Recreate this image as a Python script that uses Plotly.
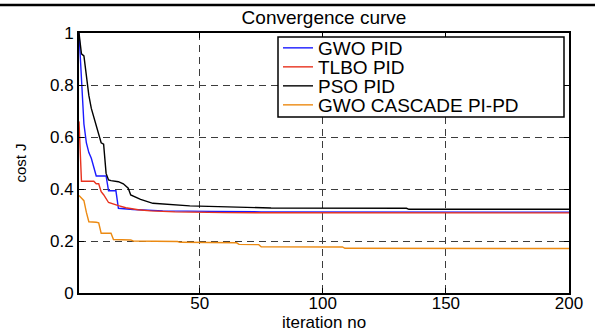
import plotly.graph_objects as go

# Convergence data: best cost J recorded at the iterations where it changes
gwo_iter = [1, 2, 3, 4, 5, 6, 8, 12, 13, 16, 17, 23, 35, 55, 75, 200]
gwo_cost = [1.0, 0.82, 0.65, 0.577, 0.54, 0.518, 0.45, 0.45, 0.393, 0.393, 0.326, 0.321, 0.316, 0.314, 0.312, 0.311]

tlbo_iter = [1, 2, 7, 8, 9, 10, 11, 12, 13, 17, 20, 25, 30, 40, 60, 200]
tlbo_cost = [0.66, 0.43, 0.43, 0.42, 0.42, 0.39, 0.378, 0.36, 0.348, 0.336, 0.328, 0.32, 0.316, 0.312, 0.309, 0.308]

pso_iter = [1, 2, 3, 4, 5, 6, 7, 8, 9, 10, 11, 12, 13, 14, 17, 19, 21, 22,
            26, 31, 46, 64, 79, 134, 135, 200]
pso_cost = [1.0, 0.92, 0.912, 0.83, 0.76, 0.71, 0.675, 0.64, 0.605, 0.578, 0.572, 0.46, 0.435, 0.432,
            0.428, 0.42, 0.403, 0.377, 0.36, 0.345, 0.335, 0.33, 0.327, 0.326, 0.322, 0.322]

cascade_iter = [1, 2, 3, 4, 5, 8, 9, 10, 14, 15, 22, 23, 41, 42, 65, 66, 74, 75, 108, 109, 200]
cascade_cost = [0.375, 0.365, 0.355, 0.31, 0.274, 0.272, 0.27, 0.23, 0.23, 0.206, 0.204, 0.2, 0.198,
                0.195, 0.193, 0.187, 0.186, 0.178, 0.177, 0.172, 0.171]

series_names = ["GWO PID", "TLBO PID", "PSO PID", "GWO CASCADE PI-PD"]
series_colors = ["#1a1aff", "#e8321e", "#000000", "#ec8a12"]

x_ticks = [50, 100, 150, 200]
y_ticks = [0, 0.2, 0.4, 0.6, 0.8, 1]

FONT = "Liberation Sans, Arial, sans-serif"

# plot area in pixels (figure is 595 x 332)
PL, PR, PT, PB = 79, 569, 33, 293
W, H = PR - PL, PB - PT

def px_x(px):
    return (px - PL) / W

def px_y(py):
    return (PB - py) / H

legend_ids = ["legend", "legend2", "legend3", "legend4"]
legend_rows = [48, 67, 86, 105]  # vertical centre of each legend entry (px)

fig = go.Figure()
for name, color, xs, ys, lid in zip(
    series_names,
    series_colors,
    [gwo_iter, tlbo_iter, pso_iter, cascade_iter],
    [gwo_cost, tlbo_cost, pso_cost, cascade_cost],
    legend_ids,
):
    fig.add_trace(go.Scatter(x=xs, y=ys, mode="lines", name=name, legend=lid,
                             line=dict(color=color, width=1.4)))

axis_common = dict(
    showline=True, linecolor="black", linewidth=1.8, mirror="ticks",
    ticks="inside", ticklen=5, tickwidth=1, tickcolor="black",
    showgrid=True, gridcolor="#3c3c3c", gridwidth=1, griddash="7px,5px",
    zeroline=False, automargin=False,
    tickfont=dict(family=FONT, size=17, color="black"),
)

fig.update_xaxes(range=[1, 200], tickvals=x_ticks, ticktext=[str(v) for v in x_ticks],
                 ticklabelstandoff=-6, **axis_common)
fig.update_yaxes(range=[0, 1], tickvals=y_ticks, ticktext=["0", "0.2", "0.4", "0.6", "0.8", "1"],
                 title=dict(text="cost J", font=dict(family=FONT, size=15, color="black"),
                            standoff=20),
                 **axis_common)

# x-axis title placed under the tick labels
fig.add_annotation(text="iteration no", xref="paper", yref="paper",
                   x=0.5, y=px_y(322.5), xanchor="center", yanchor="middle",
                   showarrow=False, font=dict(family=FONT, size=17, color="black"))

# thick rule across the top of the figure
fig.add_shape(type="line", xref="paper", yref="paper",
              x0=px_x(-10), x1=px_x(605), y0=px_y(5), y1=px_y(5),
              line=dict(color="black", width=2.5))

# frame behind the legend entries
fig.add_shape(type="rect", xref="paper", yref="paper", layer="above",
              x0=px_x(278), x1=px_x(564), y0=px_y(117), y1=px_y(37),
              fillcolor="white", line=dict(color="black", width=1.5))

legend_layout = {}
for lid, row in zip(legend_ids, legend_rows):
    legend_layout[lid] = dict(
        x=px_x(278), y=px_y(row), xanchor="left", yanchor="middle",
        bgcolor="rgba(0,0,0,0)", borderwidth=0,
        font=dict(family=FONT, size=19, color="black"),
        itemwidth=30,
    )

fig.update_layout(
    width=595, height=332,
    margin=dict(l=PL, r=595 - PR, t=PT, b=332 - PB),
    paper_bgcolor="white", plot_bgcolor="white",
    title=dict(text="Convergence curve", x=0.5, xref="paper", y=1 - 17 / 332,
               yref="container", xanchor="center", yanchor="middle",
               font=dict(family=FONT, size=19, color="black")),
    showlegend=True,
    **legend_layout,
)

fig.write_html("out.html")
